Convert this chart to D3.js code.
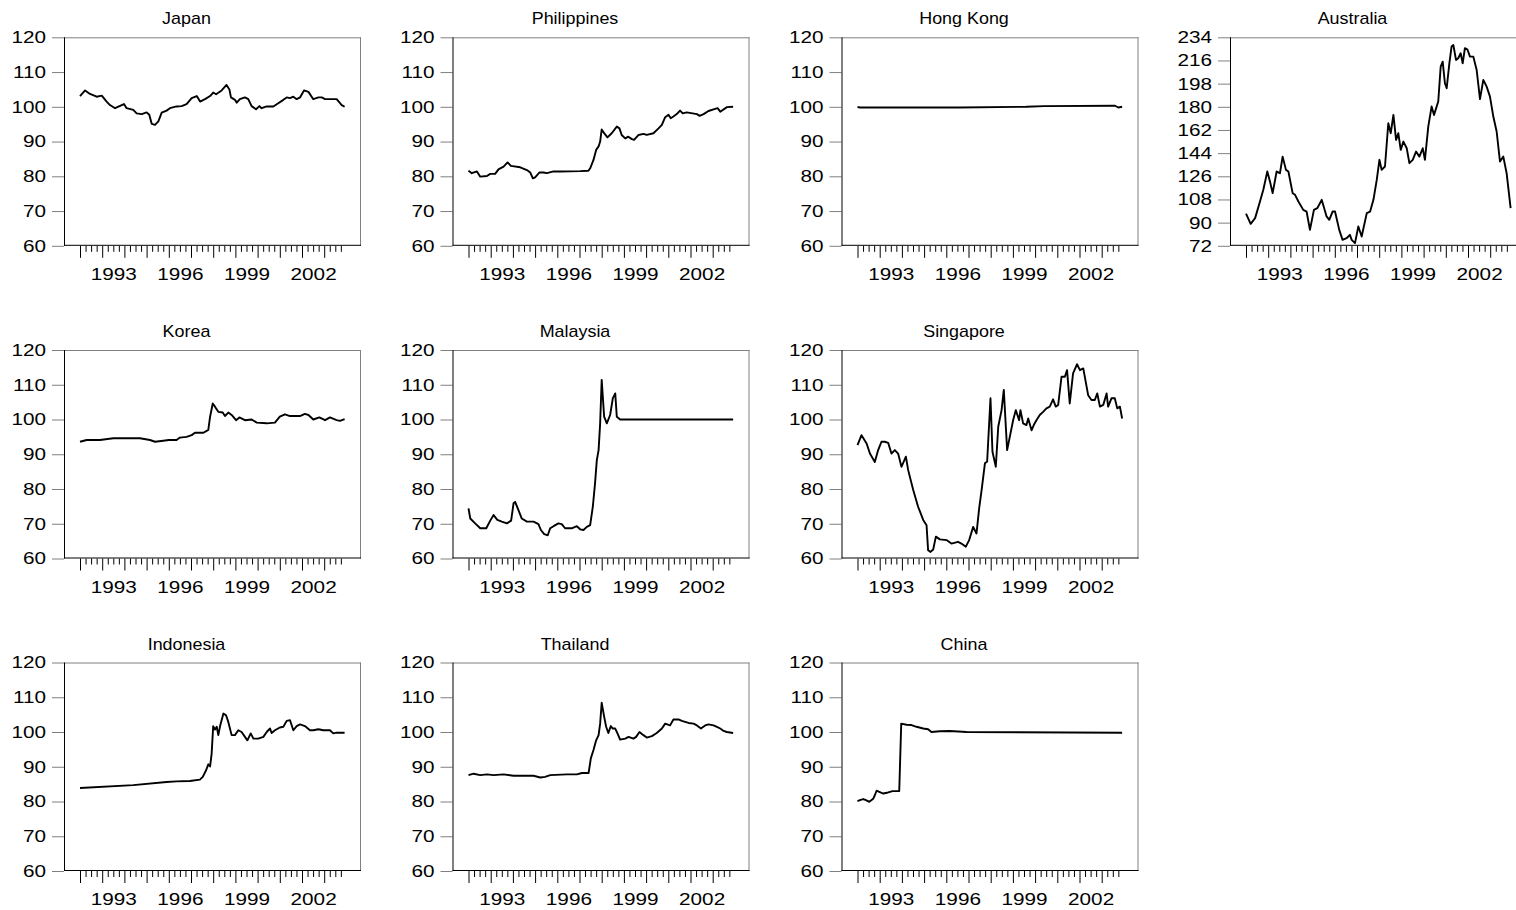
<!DOCTYPE html>
<html><head><meta charset="utf-8">
<script src="https://cdn.jsdelivr.net/npm/d3@7"></script>
<style>
html,body{margin:0;padding:0;background:#fff;}
svg{display:block;}
text{font-family:"Liberation Sans",Arial,sans-serif;fill:#000;}
</style></head>
<body>
<svg id="chart" width="1516" height="910"></svg>
<script>
// ---------- data (fractional year, index value) ----------
const japan = [[1992.0,103.1],[1992.23,104.7],[1992.45,103.7],[1992.75,102.9],[1992.98,103.2],[1993.2,101.5],[1993.35,100.5],[1993.58,99.6],[1993.98,100.8],[1994.1,99.6],[1994.4,99.1],[1994.55,98.1],[1994.78,97.9],[1995.0,98.4],[1995.12,97.7],[1995.23,95.1],[1995.38,94.8],[1995.53,95.8],[1995.68,98.3],[1995.9,98.9],[1996.05,99.6],[1996.35,100.1],[1996.58,100.2],[1996.8,100.8],[1997.03,102.5],[1997.26,103.1],[1997.41,101.5],[1997.63,102.2],[1997.86,103.1],[1998.0,104.1],[1998.13,103.6],[1998.38,104.7],[1998.6,106.3],[1998.73,105.0],[1998.8,102.7],[1998.98,102.0],[1999.06,101.2],[1999.2,102.2],[1999.43,102.7],[1999.58,102.2],[1999.73,100.2],[1999.93,99.3],[2000.08,100.2],[2000.18,99.6],[2000.41,100.1],[2000.71,100.1],[2000.93,101.0],[2001.16,102.0],[2001.31,102.7],[2001.46,102.5],[2001.61,102.9],[2001.76,102.2],[2001.91,102.7],[2002.09,104.7],[2002.29,104.3],[2002.51,102.2],[2002.74,102.7],[2002.89,102.7],[2003.04,102.2],[2003.26,102.2],[2003.56,102.2],[2003.79,100.5],[2003.92,100.0]];
const philippines = [[1992.0,81.6],[1992.15,80.9],[1992.38,81.4],[1992.53,79.9],[1992.83,80.1],[1992.98,80.7],[1993.2,80.7],[1993.35,82.0],[1993.58,82.8],[1993.76,84.0],[1993.91,83.0],[1994.33,82.6],[1994.63,81.8],[1994.78,81.1],[1994.9,79.4],[1995.0,79.7],[1995.2,81.1],[1995.38,81.1],[1995.53,80.9],[1995.83,81.4],[1996.13,81.4],[1997.03,81.5],[1997.4,81.6],[1997.48,82.3],[1997.63,84.7],[1997.75,87.6],[1997.86,88.6],[1997.93,90.0],[1998.0,93.5],[1998.11,92.4],[1998.26,91.2],[1998.45,92.4],[1998.68,94.3],[1998.8,93.8],[1998.9,91.9],[1999.06,90.9],[1999.2,91.4],[1999.36,90.7],[1999.46,90.5],[1999.66,91.9],[1999.88,92.2],[2000.03,91.9],[2000.33,92.4],[2000.56,93.8],[2000.71,94.8],[2000.86,97.0],[2001.01,97.7],[2001.11,96.7],[2001.23,97.2],[2001.38,97.9],[2001.53,98.9],[2001.65,98.1],[2001.83,98.4],[2002.29,97.9],[2002.41,97.4],[2002.59,97.9],[2002.81,98.8],[2003.11,99.4],[2003.22,99.6],[2003.34,98.6],[2003.64,99.9],[2003.92,100.0]];
const hongKong = [[1992.0,100.0],[1992.1,99.8],[1993.3,99.8],[1994.0,99.8],[1996.6,99.8],[1999.6,100.0],[2000.4,100.2],[2003.6,100.3],[2003.75,99.8],[2003.92,100.0]];
const australia = [[1992.0,97.0],[1992.21,89.1],[1992.41,93.5],[1992.63,106.4],[1992.78,115.5],[1992.96,129.7],[1993.08,121.9],[1993.2,112.9],[1993.38,129.7],[1993.53,128.4],[1993.65,141.3],[1993.8,131.0],[1993.91,129.7],[1994.1,112.9],[1994.21,111.6],[1994.36,106.4],[1994.58,99.9],[1994.73,98.6],[1994.88,84.4],[1995.06,99.9],[1995.21,101.2],[1995.41,107.7],[1995.63,94.8],[1995.75,92.2],[1995.9,98.6],[1996.01,98.6],[1996.2,84.4],[1996.35,76.6],[1996.53,77.9],[1996.68,80.5],[1996.76,76.6],[1996.91,74.1],[1997.06,87.0],[1997.21,79.2],[1997.44,97.4],[1997.59,98.6],[1997.74,107.7],[1997.89,123.2],[1998.01,138.8],[1998.11,131.0],[1998.26,133.6],[1998.41,167.2],[1998.52,159.5],[1998.64,173.7],[1998.76,154.3],[1998.86,159.5],[1998.97,146.5],[1999.09,153.0],[1999.24,147.8],[1999.36,136.2],[1999.51,138.8],[1999.66,145.2],[1999.81,141.3],[1999.96,147.8],[2000.06,138.8],[2000.21,164.6],[2000.36,180.2],[2000.47,173.7],[2000.66,184.1],[2000.77,211.2],[2000.86,215.1],[2000.96,198.3],[2001.04,194.4],[2001.16,213.8],[2001.26,226.8],[2001.34,228.0],[2001.46,216.4],[2001.56,217.7],[2001.67,221.6],[2001.76,213.8],[2001.86,225.5],[2001.97,224.7],[2002.09,219.0],[2002.24,219.0],[2002.39,208.6],[2002.54,186.0],[2002.69,200.9],[2002.84,195.7],[2002.99,187.9],[2003.14,172.4],[2003.29,160.8],[2003.44,137.5],[2003.59,141.3],[2003.74,128.4],[2003.92,101.2]];
const korea = [[1992.0,93.6],[1992.3,94.1],[1992.9,94.1],[1993.5,94.6],[1994.7,94.6],[1995.15,94.1],[1995.38,93.6],[1995.75,93.9],[1996.0,94.1],[1996.35,94.1],[1996.5,94.8],[1996.8,95.0],[1997.03,95.5],[1997.18,96.2],[1997.56,96.2],[1997.78,97.0],[1997.86,100.8],[1997.98,104.6],[1998.08,103.7],[1998.23,102.2],[1998.43,102.0],[1998.53,101.0],[1998.68,102.0],[1998.83,101.3],[1999.03,99.8],[1999.18,100.6],[1999.43,99.8],[1999.73,100.0],[1999.96,99.1],[2000.41,98.9],[2000.78,99.1],[2001.0,100.8],[2001.23,101.5],[2001.46,101.0],[2001.91,101.0],[2002.13,101.6],[2002.29,101.3],[2002.51,100.0],[2002.78,100.6],[2003.04,99.8],[2003.26,100.6],[2003.56,99.8],[2003.71,99.6],[2003.92,100.1]];
const malaysia = [[1992.0,74.4],[1992.08,71.5],[1992.3,70.1],[1992.53,68.7],[1992.8,68.7],[1992.98,70.9],[1993.13,72.5],[1993.3,71.1],[1993.5,70.6],[1993.73,70.1],[1993.92,70.9],[1994.03,75.9],[1994.1,76.3],[1994.25,73.9],[1994.4,71.5],[1994.63,70.6],[1994.93,70.6],[1995.15,69.9],[1995.26,68.2],[1995.41,67.0],[1995.57,66.7],[1995.68,68.7],[1995.83,69.3],[1996.05,70.1],[1996.2,69.9],[1996.35,68.7],[1996.65,68.7],[1996.88,69.3],[1997.03,68.4],[1997.18,68.2],[1997.33,69.1],[1997.48,69.6],[1997.6,74.9],[1997.7,81.6],[1997.78,88.3],[1997.86,91.2],[1997.93,98.9],[1998.0,111.4],[1998.11,100.8],[1998.23,98.9],[1998.38,101.3],[1998.5,106.1],[1998.61,107.5],[1998.68,100.8],[1998.83,100.0],[2003.92,100.0]];
const singapore = [[1992.0,92.6],[1992.18,95.5],[1992.41,93.1],[1992.56,90.2],[1992.78,87.8],[1992.93,91.2],[1993.08,93.6],[1993.23,93.6],[1993.38,93.3],[1993.53,90.2],[1993.68,91.2],[1993.83,90.2],[1993.98,86.4],[1994.18,89.3],[1994.28,85.5],[1994.51,79.7],[1994.73,74.9],[1994.96,71.1],[1995.11,69.6],[1995.18,62.4],[1995.29,61.9],[1995.41,62.6],[1995.53,66.3],[1995.71,65.5],[1996.01,65.3],[1996.23,64.3],[1996.53,64.8],[1996.68,64.3],[1996.88,63.4],[1997.03,65.3],[1997.21,69.1],[1997.36,67.2],[1997.48,74.4],[1997.59,79.7],[1997.74,87.4],[1997.84,87.9],[1997.99,106.1],[1998.08,90.7],[1998.23,86.4],[1998.34,97.9],[1998.49,102.7],[1998.59,108.5],[1998.74,91.2],[1998.86,95.0],[1999.01,99.8],[1999.13,102.7],[1999.28,99.8],[1999.34,102.7],[1999.46,98.9],[1999.61,98.4],[1999.69,100.3],[1999.84,96.9],[1999.94,98.4],[2000.06,99.8],[2000.21,101.3],[2000.36,102.2],[2000.51,103.2],[2000.66,103.7],[2000.81,105.8],[2000.93,103.7],[2001.04,104.2],[2001.19,112.3],[2001.34,112.3],[2001.44,114.2],[2001.56,104.6],[2001.71,113.3],[2001.89,115.9],[2002.02,114.2],[2002.17,114.7],[2002.39,107.0],[2002.54,105.6],[2002.69,105.6],[2002.8,107.5],[2002.92,103.7],[2003.07,104.2],[2003.22,107.5],[2003.29,103.7],[2003.44,106.1],[2003.59,106.1],[2003.7,103.2],[2003.82,103.7],[2003.92,100.3]];
const indonesia = [[1992.0,83.9],[1994.4,84.7],[1995.9,85.6],[1996.35,85.8],[1996.95,85.9],[1997.4,86.3],[1997.53,87.1],[1997.68,89.0],[1997.78,90.7],[1997.86,90.1],[1997.93,93.8],[1998.0,101.7],[1998.08,100.7],[1998.16,101.5],[1998.23,99.1],[1998.31,101.7],[1998.46,105.3],[1998.58,104.8],[1998.68,102.9],[1998.83,99.1],[1998.98,99.1],[1999.13,100.5],[1999.28,100.0],[1999.43,98.6],[1999.54,97.6],[1999.69,99.6],[1999.81,98.1],[2000.03,98.1],[2000.26,98.6],[2000.41,100.0],[2000.56,101.0],[2000.63,99.7],[2000.78,100.5],[2001.0,101.3],[2001.16,101.5],[2001.31,103.2],[2001.46,103.4],[2001.61,100.5],[2001.76,101.7],[2001.91,102.2],[2002.13,101.7],[2002.36,100.5],[2002.51,100.5],[2002.74,100.8],[2002.96,100.5],[2003.26,100.5],[2003.41,99.6],[2003.56,99.8],[2003.92,99.8]];
const thailand = [[1992.0,87.6],[1992.23,88.0],[1992.53,87.6],[1992.83,87.8],[1993.13,87.6],[1993.58,87.8],[1994.03,87.4],[1994.63,87.4],[1994.93,87.4],[1995.23,86.9],[1995.45,87.1],[1995.68,87.6],[1996.43,87.8],[1996.88,87.8],[1997.11,88.2],[1997.41,88.2],[1997.51,92.4],[1997.63,94.8],[1997.75,97.6],[1997.86,99.1],[1997.93,102.4],[1998.0,108.4],[1998.11,104.4],[1998.2,101.5],[1998.3,99.7],[1998.41,101.7],[1998.5,101.0],[1998.61,101.0],[1998.71,99.6],[1998.83,97.8],[1999.06,98.1],[1999.21,98.6],[1999.43,98.1],[1999.55,98.6],[1999.7,100.0],[1999.88,99.1],[2000.03,98.4],[2000.26,98.8],[2000.48,99.7],[2000.71,101.0],[2000.86,102.4],[2001.08,101.9],[2001.23,103.6],[2001.46,103.6],[2001.61,103.2],[2001.91,102.6],[2002.14,102.4],[2002.29,101.9],[2002.47,101.0],[2002.66,101.9],[2002.81,102.2],[2003.04,101.9],[2003.19,101.5],[2003.34,101.0],[2003.49,100.3],[2003.64,100.0],[2003.92,99.7]];
const china = [[1992.0,80.1],[1992.11,80.4],[1992.26,80.7],[1992.38,80.4],[1992.53,79.9],[1992.71,80.8],[1992.78,81.8],[1992.86,83.1],[1992.98,82.8],[1993.16,82.3],[1993.38,82.6],[1993.58,83.0],[1993.88,83.0],[1993.97,102.4],[1994.21,102.1],[1994.43,102.0],[1994.66,101.5],[1994.96,101.0],[1995.18,100.8],[1995.33,100.0],[1995.71,100.2],[1996.16,100.3],[1996.91,100.0],[2003.92,99.8]];

const titles = ["Japan","Philippines","Hong Kong","Australia","Korea","Malaysia","Singapore","Indonesia","Thailand","China"];
const yTicksStd = [60,70,80,90,100,110,120];
const yTicksAus = [72,90,108,126,144,162,180,198,216,234];
const yearTicks = [1992,1993,1994,1995,1996,1997,1998,1999,2000,2001,2002,2003];
const yearLabels = [1993,1996,1999,2002];

const seriesList = [japan, philippines, hongKong, australia, korea, malaysia, singapore, indonesia, thailand, china];
const gridPos = [[0,0],[0,1],[0,2],[0,3],[1,0],[1,1],[1,2],[2,0],[2,1],[2,2]];

// ---------- layout ----------
const colLeft = [64, 452.5, 841.5, 1230];
const rowTop = [37.3, 350, 662.5];
const W = 297, H = 208.5;
const pxPerYear = 22.2, firstOffset = 16;
const x0 = 1992 - firstOffset / pxPerYear;
const x1 = x0 + W / pxPerYear;
const numScale = 1.22, titleScale = 1.12;

const svg = d3.select("#chart");

seriesList.forEach((data, i) => {
  const [r, c] = gridPos[i];
  const g = svg.append("g").attr("transform", `translate(${colLeft[c]},${rowTop[r]})`);
  const isAus = titles[i] === "Australia";
  const yT = isAus ? yTicksAus : yTicksStd;
  const x = d3.scaleLinear().domain([x0, x1]).range([0, W]);
  const y = d3.scaleLinear().domain([yT[0], yT[yT.length - 1]]).range([H, 0]);

  g.append("line").attr("x1", 0).attr("x2", W).attr("y1", 0.5).attr("y2", 0.5).attr("stroke", "#808080").attr("stroke-width", 1);
  g.append("line").attr("x1", W - 0.5).attr("x2", W - 0.5).attr("y1", 0).attr("y2", H).attr("stroke", "#808080").attr("stroke-width", 1);

  const ya = g.append("g").call(d3.axisLeft(y).tickValues(yT).tickSize(12).tickPadding(6).tickFormat(d3.format("d")));
  ya.select(".domain").remove();
  ya.selectAll(".tick line").attr("stroke", "#808080");
  ya.selectAll(".tick text").attr("font-size", 17).attr("font-family", "Liberation Sans, Arial, sans-serif")
    .attr("x", -18 / numScale).attr("transform", `scale(${numScale},1)`);

  const quarters = [];
  yearTicks.forEach(yr => { [0.25, 0.5, 0.75].forEach(q => quarters.push(yr + q)); });
  const xMinor = g.append("g").attr("transform", `translate(0,${H})`)
    .call(d3.axisBottom(x).tickValues(quarters).tickSize(6).tickFormat(""));
  xMinor.select(".domain").remove();
  const xMajor = g.append("g").attr("transform", `translate(0,${H})`)
    .call(d3.axisBottom(x).tickValues(yearTicks).tickSize(12).tickFormat(""));
  xMajor.select(".domain").remove();
  g.selectAll(".tick line").attr("stroke-width", 1);
  const xLab = g.append("g").attr("transform", `translate(0,${H})`)
    .call(d3.axisBottom(x).tickValues(yearLabels.map(v => v + 0.5)).tickSize(0).tickPadding(22).tickFormat(d => String(Math.floor(d))));
  xLab.select(".domain").remove();
  xLab.selectAll(".tick text").attr("font-size", 17).attr("font-family", "Liberation Sans, Arial, sans-serif")
    .attr("transform", `scale(${numScale},1)`);

  g.append("line").attr("x1", 0.5).attr("x2", 0.5).attr("y1", 0).attr("y2", H).attr("stroke", "#000").attr("stroke-width", 1);
  g.append("line").attr("x1", 0).attr("x2", W).attr("y1", H - 0.5).attr("y2", H - 0.5).attr("stroke", "#000").attr("stroke-width", 1);

  const line = d3.line().x(d => x(d[0])).y(d => y(d[1]));
  g.append("path").datum(data).attr("d", line).attr("fill", "none").attr("stroke", "#000")
    .attr("stroke-width", 1.9).attr("stroke-linejoin", "round");

  const tx = W / 2 - 26;
  g.append("text").attr("transform", `translate(${tx},-13) scale(${titleScale},1)`)
    .attr("text-anchor", "middle").attr("font-size", 16).text(titles[i]);
});
</script>
</body></html>
